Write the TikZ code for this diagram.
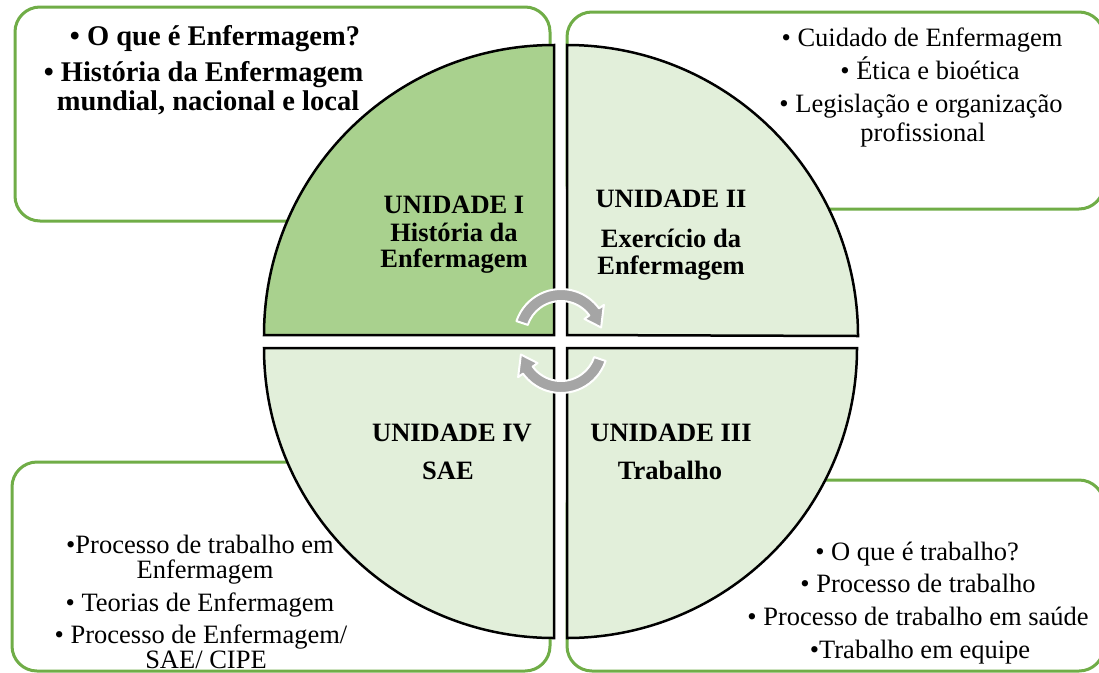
\documentclass[tikz,border=0pt]{standalone}
\usepackage{fontspec}
\setmainfont{Liberation Serif}
\definecolor{boxgreen}{RGB}{112,173,71}
\definecolor{qdark}{RGB}{169,209,142}
\definecolor{qlight}{RGB}{226,239,218}
\definecolor{arrowgray}{RGB}{165,165,165}
\begin{document}
\begin{tikzpicture}[x=1pt,y=-1pt,
  infobox/.style={draw=boxgreen, line width=3pt, fill=white, rounded corners=25pt},
  quad/.style={draw=black, line width=2.5pt, line join=miter},
  cyclearrow/.style={fill=arrowgray, draw=white, line width=2pt, line join=round},
  boxtext/.style={font=\fontsize{26.5}{30}\selectfont, anchor=base, inner sep=0pt},
  boldtext/.style={font=\fontsize{28.5}{30}\selectfont\bfseries, anchor=base, inner sep=0pt},
  quadlabel/.style={font=\fontsize{26.5}{30}\selectfont\bfseries, anchor=base, inner sep=0pt}]
\useasboundingbox (0,0) rectangle (1099,672);
\fill[white] (0,0) rectangle (1099,672);

% info boxes
\path[infobox] (15,7) rectangle (550,221);
\path[infobox] (567,12) rectangle (1104,209);
\path[infobox] (12,462) rectangle (550,671);
\path[infobox] (567,480) rectangle (1104,671);

% quadrants
\path[quad, fill=qdark]  (554,335) -- (264,335) arc[start angle=180, end angle=270, radius=290] -- cycle;
\path[quad, fill=qlight] (567,335) -- (567,45) arc[start angle=270, end angle=360, radius=291] -- cycle;
\path[quad, fill=qlight] (567,348) -- (857,348) arc[start angle=0, end angle=90, radius=290] -- cycle;
\path[quad, fill=qlight] (554,348) -- (554,638) arc[start angle=90, end angle=180, radius=290] -- cycle;

% quadrant labels
\node[quadlabel] (q1a) at (454,213) {UNIDADE I};
\node[quadlabel] (q1b) at (454,241) {História da};
\node[quadlabel] (q1c) at (454,267) {Enfermagem};
\node[quadlabel] (q2a) at (671,207) {UNIDADE II};
\node[quadlabel] (q2b) at (671,247) {Exercício da};
\node[quadlabel] (q2c) at (671,274) {Enfermagem};
\node[quadlabel] (q4a) at (452,441) {UNIDADE IV};
\node[quadlabel] (q4b) at (448,479) {SAE};
\node[quadlabel] (q3a) at (671,441) {UNIDADE III};
\node[quadlabel] (q3b) at (670,479) {Trabalho};

% top-left box text
\node[boldtext] (tl1) at (215,45) {• O que é Enfermagem?};
\node[boldtext] (tl2) at (203.5,81) {• História da Enfermagem};
\node[boldtext] (tl3) at (208,110) {mundial, nacional e local};

% top-right box text
\node[boxtext] (tr1) at (922,46) {• Cuidado de Enfermagem};
\node[boxtext] (tr2) at (930,79) {• Ética e bioética};
\node[boxtext] (tr3) at (921,112) {• Legislação e organização};
\node[boxtext] (tr4) at (923,141) {profissional};

% bottom-left box text
\node[boxtext] (bl1) at (200,553) {•Processo de trabalho em};
\node[boxtext] (bl2) at (205,578) {Enfermagem};
\node[boxtext] (bl3) at (200,611) {• Teorias de Enfermagem};
\node[boxtext] (bl4) at (201,643) {• Processo de Enfermagem/};
\node[boxtext] (bl5) at (206,668) {SAE/ CIPE};

% bottom-right box text
\node[boxtext] (br1) at (917,560) {• O que é trabalho?};
\node[boxtext] (br2) at (918,592) {• Processo de trabalho};
\node[boxtext] (br3) at (918,625) {• Processo de trabalho em saúde};
\node[boxtext] (br4) at (920,658) {•Trabalho em equipe};

% circular arrows
\begin{scope}[shift={(561,336)}]
\path[cyclearrow] (198.5:47) arc[start angle=198.5, end angle=324, radius=47]
  -- (324:53) -- (348:41) -- (324:29) -- (324:35)
  arc[start angle=324, end angle=198.5, radius=35] -- cycle;
\end{scope}
\begin{scope}[shift={(561,346)}]
\path[cyclearrow] (18.5:47) arc[start angle=18.5, end angle=144, radius=47]
  -- (144:53) -- (168:41) -- (144:29) -- (144:35)
  arc[start angle=144, end angle=18.5, radius=35] -- cycle;
\end{scope}
\end{tikzpicture}
\end{document}
